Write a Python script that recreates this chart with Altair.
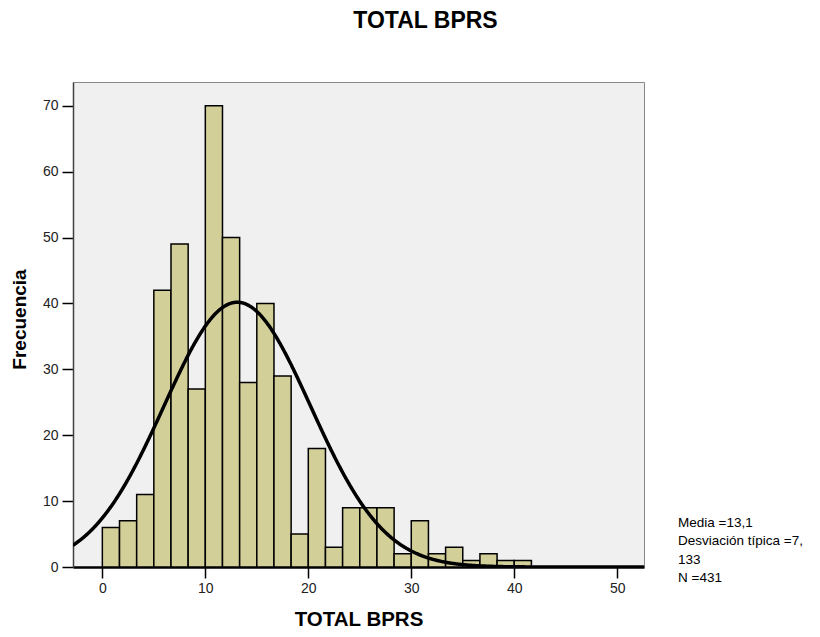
import altair as alt
import pandas as pd

# Histogram data
bin_width = 5 / 3
counts = [6, 7, 11, 42, 49, 27, 70, 50, 28, 40, 29, 5, 18, 3,
          9, 9, 9, 2, 7, 2, 3, 1, 2, 1, 1]
stats_lines = ["Media =13,1", "Desviación típica =7,", "133", "N =431"]
mean_val = 13.1
sd_val = 7.133
n_val = 431

x_ticks = [0, 10, 20, 30, 40, 50]
y_ticks = [0, 10, 20, 30, 40, 50, 60, 70]
x_domain = [-2.85, 52.6]
y_domain = [0, 73.6]

df = pd.DataFrame({
    "start": [i * bin_width for i in range(len(counts))],
    "end": [(i + 1) * bin_width for i in range(len(counts))],
    "count": counts,
    "base": [0] * len(counts),
})

FONT = "Liberation Sans"

xscale = alt.Scale(domain=x_domain, nice=False, zero=False, padding=0)
yscale = alt.Scale(domain=y_domain, nice=False, padding=0)

bars = alt.Chart(df).mark_bar(
    fill="#D3CF99", stroke="#000000", strokeWidth=1.5
).encode(
    x=alt.X("start:Q", scale=xscale,
            axis=alt.Axis(values=x_ticks, title="TOTAL BPRS", grid=False,
                          domainColor="#000000", domainWidth=2.5,
                          tickColor="#000000", tickWidth=1.5, tickSize=11,
                          labelFontSize=14, labelColor="#222222", labelPadding=3,
                          labelFont=FONT, titleFont=FONT, titleFontSize=20.5,
                          titleFontWeight="bold", titleColor="#000000",
                          titlePadding=14)),
    x2="end:Q",
    y=alt.Y("count:Q", scale=yscale,
            axis=alt.Axis(values=y_ticks, title="Frecuencia", grid=False,
                          domainColor="#404040", domainWidth=1.5,
                          tickColor="#000000", tickWidth=1.5, tickSize=11,
                          labelFontSize=14, labelColor="#222222", labelPadding=4,
                          labelFont=FONT, titleFont=FONT, titleFontSize=19,
                          titleFontWeight="bold", titleColor="#000000",
                          titlePadding=13, titleY=237)),
    y2="base:Q",
)

curve = alt.Chart(alt.sequence(x_domain[0], x_domain[1] + 0.01, 0.05, as_="x")).transform_calculate(
    y=f"{n_val} * {bin_width} / ({sd_val} * sqrt(2 * PI)) * exp(-0.5 * pow((datum.x - {mean_val}) / {sd_val}, 2))"
).mark_line(color="#000000", strokeWidth=3.5, clip=True).encode(
    x=alt.X("x:Q", scale=xscale),
    y=alt.Y("y:Q", scale=yscale),
)

stats = alt.Chart(pd.DataFrame({"t": [0]})).mark_text(
    text=stats_lines, align="left", baseline="alphabetic", font=FONT,
    fontSize=13.5, lineHeight=18.3, color="#000000"
).encode(x=alt.value(605), y=alt.value(445))

chart = alt.layer(bars, curve, stats).properties(
    width=571, height=485,
    title=alt.TitleParams("TOTAL BPRS", font=FONT, fontSize=23, fontWeight="bold",
                          color="#000000", anchor="middle", dx=67, offset=49),
    autosize=alt.AutoSizeParams(type="none"),
    padding={"left": 65, "top": 74, "right": 168, "bottom": 62},
).configure_view(
    fill="#F0F0F0", stroke="#888888", strokeWidth=1
)

chart.save("out.html", embed_options={"renderer": "svg", "actions": False})
